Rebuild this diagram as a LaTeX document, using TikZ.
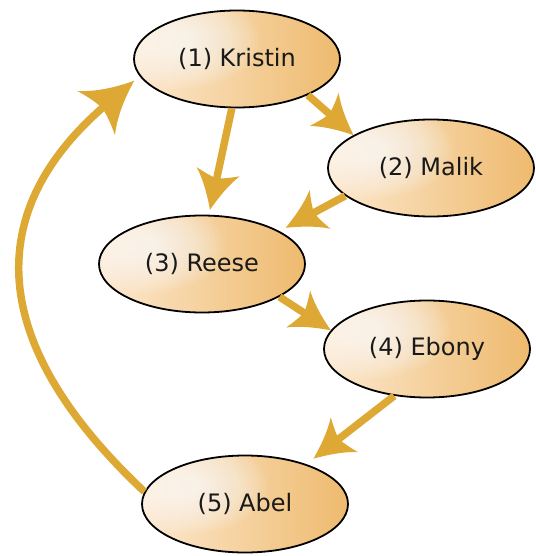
\documentclass[tikz,border=0pt]{standalone}
\usepackage{fontspec}
\setmainfont{DejaVu Sans}
\usetikzlibrary{shapes.geometric,arrows.meta}
\definecolor{arrowgold}{RGB}{221,169,52}
\definecolor{peachL}{RGB}{252,232,206}
\definecolor{peachM}{RGB}{248,219,180}
\definecolor{orangeR}{RGB}{238,186,110}
\pgfdeclarearrow{
  name = CurvedHead,
  setup code = {
    \pgfarrowssettipend{0pt}
    \pgfarrowssetlineend{-27pt}
    \pgfarrowssetbackend{-39pt}
    \pgfarrowsupperhullpoint{0pt}{0pt}
    \pgfarrowsupperhullpoint{-39pt}{22pt}
    \pgfarrowshullpoint{-32pt}{0pt}
  },
  drawing code = {
    \pgfpathmoveto{\pgfqpoint{0pt}{0pt}}
    \pgfpathcurveto{\pgfqpoint{-12pt}{5pt}}{\pgfqpoint{-27pt}{12pt}}{\pgfqpoint{-39pt}{22pt}}
    \pgfpathcurveto{\pgfqpoint{-35pt}{12pt}}{\pgfqpoint{-33pt}{5pt}}{\pgfqpoint{-32pt}{0pt}}
    \pgfpathcurveto{\pgfqpoint{-33pt}{-5pt}}{\pgfqpoint{-35pt}{-12pt}}{\pgfqpoint{-39pt}{-22pt}}
    \pgfpathcurveto{\pgfqpoint{-27pt}{-12pt}}{\pgfqpoint{-12pt}{-5pt}}{\pgfqpoint{0pt}{0pt}}
    \pgfpathclose
    \pgfusepathqfill
  }
}
\pgfdeclarearrow{
  name = CurvedHeadBig,
  setup code = {
    \pgfarrowssettipend{0pt}
    \pgfarrowssetlineend{-36pt}
    \pgfarrowssetbackend{-50pt}
    \pgfarrowsupperhullpoint{0pt}{0pt}
    \pgfarrowsupperhullpoint{-50pt}{29pt}
    \pgfarrowshullpoint{-42pt}{0pt}
  },
  drawing code = {
    \pgfpathmoveto{\pgfqpoint{0pt}{0pt}}
    \pgfpathcurveto{\pgfqpoint{-16pt}{6pt}}{\pgfqpoint{-35pt}{15pt}}{\pgfqpoint{-50pt}{29pt}}
    \pgfpathcurveto{\pgfqpoint{-45pt}{16pt}}{\pgfqpoint{-43pt}{7pt}}{\pgfqpoint{-42pt}{0pt}}
    \pgfpathcurveto{\pgfqpoint{-43pt}{-7pt}}{\pgfqpoint{-45pt}{-16pt}}{\pgfqpoint{-50pt}{-29pt}}
    \pgfpathcurveto{\pgfqpoint{-35pt}{-15pt}}{\pgfqpoint{-16pt}{-6pt}}{\pgfqpoint{0pt}{0pt}}
    \pgfpathclose
    \pgfusepathqfill
  }
}
\tikzset{
  person/.style={ellipse, draw=black, line width=1.8pt, minimum width=206pt,
    minimum height=97pt, inner sep=0pt, left color=peachL, middle color=peachM,
    right color=orangeR,
    font=\fontsize{24}{28}\selectfont, text=black!90,
    path picture={
      \foreach \k in {1,...,20}{
        \fill[white, opacity=0.07]
          ([xshift=-58pt,yshift=18pt]path picture bounding box.center)
          ellipse ({\k*4pt} and {\k*2.4pt});
      }}},
  link/.style={color=arrowgold, line width=7.5pt, -{CurvedHead}},
  biglink/.style={color=arrowgold, line width=7.5pt, -{CurvedHeadBig}}
}
\begin{document}
\begin{tikzpicture}[x=1pt,y=-1pt]
\useasboundingbox (0,0) rectangle (535,556);
\node[person] (e1) at (237,59) {(1) Kristin};
\node[person] (e2) at (431,168) {(2) Malik};
\node[person] (e3) at (202,264) {(3) Reese};
\node[person] (e4) at (427,349) {(4) Ebony};
\node[person] (e5) at (245,504) {(5) Abel};
\draw[link] (e1.-27) -- (e2.157);
\draw[link, shorten >=5pt] (e1.-96) -- (e3.82);
\draw[link, shorten >=7pt] (e2.-162) -- (e3.23);
\draw[link] (e3.-23) -- (e4.169);
\draw[link, shorten >=9pt] (e4.-125) -- (e5.33);
\draw[biglink, shorten >=7pt] (e5.173) .. controls (-12,345) and (-20,212) .. (e1.190);
\end{tikzpicture}
\end{document}
